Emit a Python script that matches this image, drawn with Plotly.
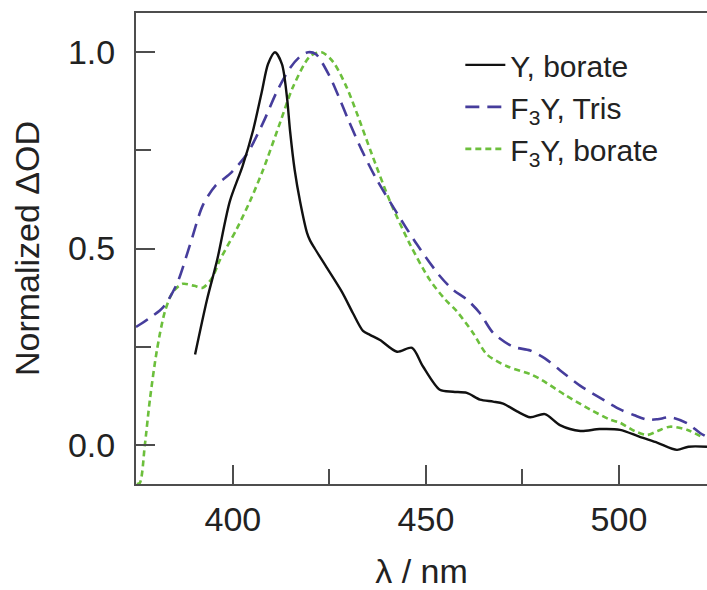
import plotly.graph_objects as go

# ---- data ----
y_borate_x = [390.2, 393.3, 395.9, 399.2, 402.5, 405.2, 407.5, 409.1, 410.9, 412.7, 414.0, 414.8, 416.0,
              417.4, 419.2, 420.0, 421.2, 424.4, 428.2, 431.1, 433.7, 435.5, 438.1, 442.5, 446.4, 449.2,
              453.6, 457.0, 460.6, 464.0, 467.4, 470.0, 473.6, 477.0, 480.8, 484.7, 490.0, 495.0,
              500.3, 505.4, 510.0, 515.0, 518.0, 522.8]
y_borate_y = [0.23, 0.37, 0.47, 0.62, 0.71, 0.80, 0.90, 0.97, 1.0, 0.97, 0.886, 0.80, 0.70,
              0.62, 0.54, 0.52, 0.50, 0.45, 0.39, 0.335, 0.29, 0.28, 0.267, 0.237, 0.247, 0.20,
              0.14, 0.135, 0.132, 0.115, 0.11, 0.105, 0.085, 0.07, 0.078, 0.05, 0.035, 0.04,
              0.038, 0.02, 0.005, -0.013, -0.005, -0.005]

f3y_tris_x = [374.9, 378.0, 381.9, 385.5, 388.9, 392.2, 395.5, 399.2, 403.6, 407.8, 411.4, 414.8,
              417.5, 419.5, 421.5, 425.0, 427.7, 429.8, 433.4, 437.0, 442.5, 447.7, 453.6, 457.0,
              460.6, 464.0, 467.4, 472.5, 477.0, 480.8, 484.7, 490.0, 495.0, 500.3, 504.0, 507.3,
              510.0, 513.2, 517.6, 521.0, 522.8]
f3y_tris_y = [0.30, 0.32, 0.35, 0.41, 0.51, 0.61, 0.66, 0.69, 0.74, 0.82, 0.90, 0.96,
              0.99, 1.0, 0.995, 0.94, 0.88, 0.83, 0.75, 0.68, 0.59, 0.51, 0.43, 0.395,
              0.37, 0.335, 0.285, 0.25, 0.24, 0.22, 0.19, 0.15, 0.12, 0.09, 0.075, 0.064,
              0.065, 0.07, 0.055, 0.03, 0.02]

f3y_borate_x = [375.1, 375.9, 377.2, 378.5, 380.3, 382.4, 384.5, 387.0, 390.0, 392.2, 394.6, 396.6,
                401.0, 404.4, 407.8, 412.2, 415.5, 420.0, 423.0, 426.0, 429.5, 432.1, 436.0, 440.7,
                445.9, 451.0, 455.0, 458.0, 462.2, 465.8, 471.0, 477.0, 480.0, 486.0, 492.5, 497.7,
                500.3, 504.0, 507.3, 510.0, 513.2, 517.6, 521.8]
f3y_borate_y = [-0.10, -0.097, 0.0, 0.115, 0.24, 0.34, 0.39, 0.41, 0.405, 0.40, 0.425, 0.47,
                0.55, 0.62, 0.70, 0.82, 0.91, 0.99, 1.0, 0.975, 0.91, 0.845, 0.74, 0.62,
                0.51, 0.42, 0.37, 0.34, 0.285, 0.23, 0.20, 0.18, 0.165, 0.127, 0.09, 0.064,
                0.056, 0.035, 0.025, 0.035, 0.046, 0.038, 0.018]

x_ticks = [400, 450, 500]
x_minor = [425, 475]
y_ticks = [0.0, 0.5, 1.0]
y_tick_text = ["0.0", "0.5", "1.0"]
y_minor = [0.25, 0.75]

FONT = "Liberation Sans, Arial, sans-serif"
AX = "#4d4d4d"
TXT = "#222222"

fig = go.Figure()
fig.add_trace(go.Scatter(x=f3y_borate_x, y=f3y_borate_y, mode="lines", name="F<sub>3</sub>Y, borate",
                         line=dict(color="#6cbf3c", width=2.6, dash="6px,4px", shape="spline", smoothing=0.8),
                         legendrank=3))
fig.add_trace(go.Scatter(x=f3y_tris_x, y=f3y_tris_y, mode="lines", name="F<sub>3</sub>Y, Tris",
                         line=dict(color="#463d9c", width=2.6, dash="14px,8px", shape="spline", smoothing=0.8),
                         legendrank=2))
fig.add_trace(go.Scatter(x=y_borate_x, y=y_borate_y, mode="lines", name="Y, borate",
                         line=dict(color="#111111", width=2.4, shape="spline", smoothing=0.8),
                         legendrank=1))

fig.update_layout(
    width=707, height=590,
    margin=dict(l=136, r=0, t=13, b=106, autoexpand=False),
    paper_bgcolor="white", plot_bgcolor="white",
    font=dict(family=FONT, color=TXT),
    showlegend=True,
    legend=dict(x=0.568, y=0.945, xanchor="left", yanchor="top",
                font=dict(size=30, family=FONT, color=TXT),
                bgcolor="rgba(0,0,0,0)", itemwidth=40, tracegroupgap=0),
    xaxis=dict(range=[374.9, 522.8], tickvals=x_ticks, ticks="inside", ticklen=19, tickwidth=2,
               tickcolor=AX, showline=True, linecolor=AX, linewidth=2, mirror=True,
               showgrid=False, zeroline=False, automargin=False,
               tickfont=dict(size=34, family=FONT, color=TXT), ticklabelstandoff=4,
               minor=dict(tickvals=x_minor, ticks="inside", ticklen=15, tickwidth=2, tickcolor=AX),
               title=dict(text="λ / nm", font=dict(size=34, family=FONT, color=TXT), standoff=22)),
    yaxis=dict(range=[-0.1, 1.1], tickvals=y_ticks, ticktext=y_tick_text, ticks="inside", ticklen=19,
               tickwidth=2, tickcolor=AX, showline=True, linecolor=AX, linewidth=2, mirror=False,
               showgrid=False, zeroline=False, automargin=False,
               tickfont=dict(size=34, family=FONT, color=TXT), ticklabelstandoff=12,
               minor=dict(tickvals=y_minor, ticks="inside", ticklen=15, tickwidth=2, tickcolor=AX),
               title=dict(text="Normalized ΔOD", font=dict(size=34, family=FONT, color=TXT), standoff=18)),
)

fig.write_html("out.html", config={"displayModeBar": False},
               post_script="document.body.style.margin='0';document.body.style.overflow='hidden';")
